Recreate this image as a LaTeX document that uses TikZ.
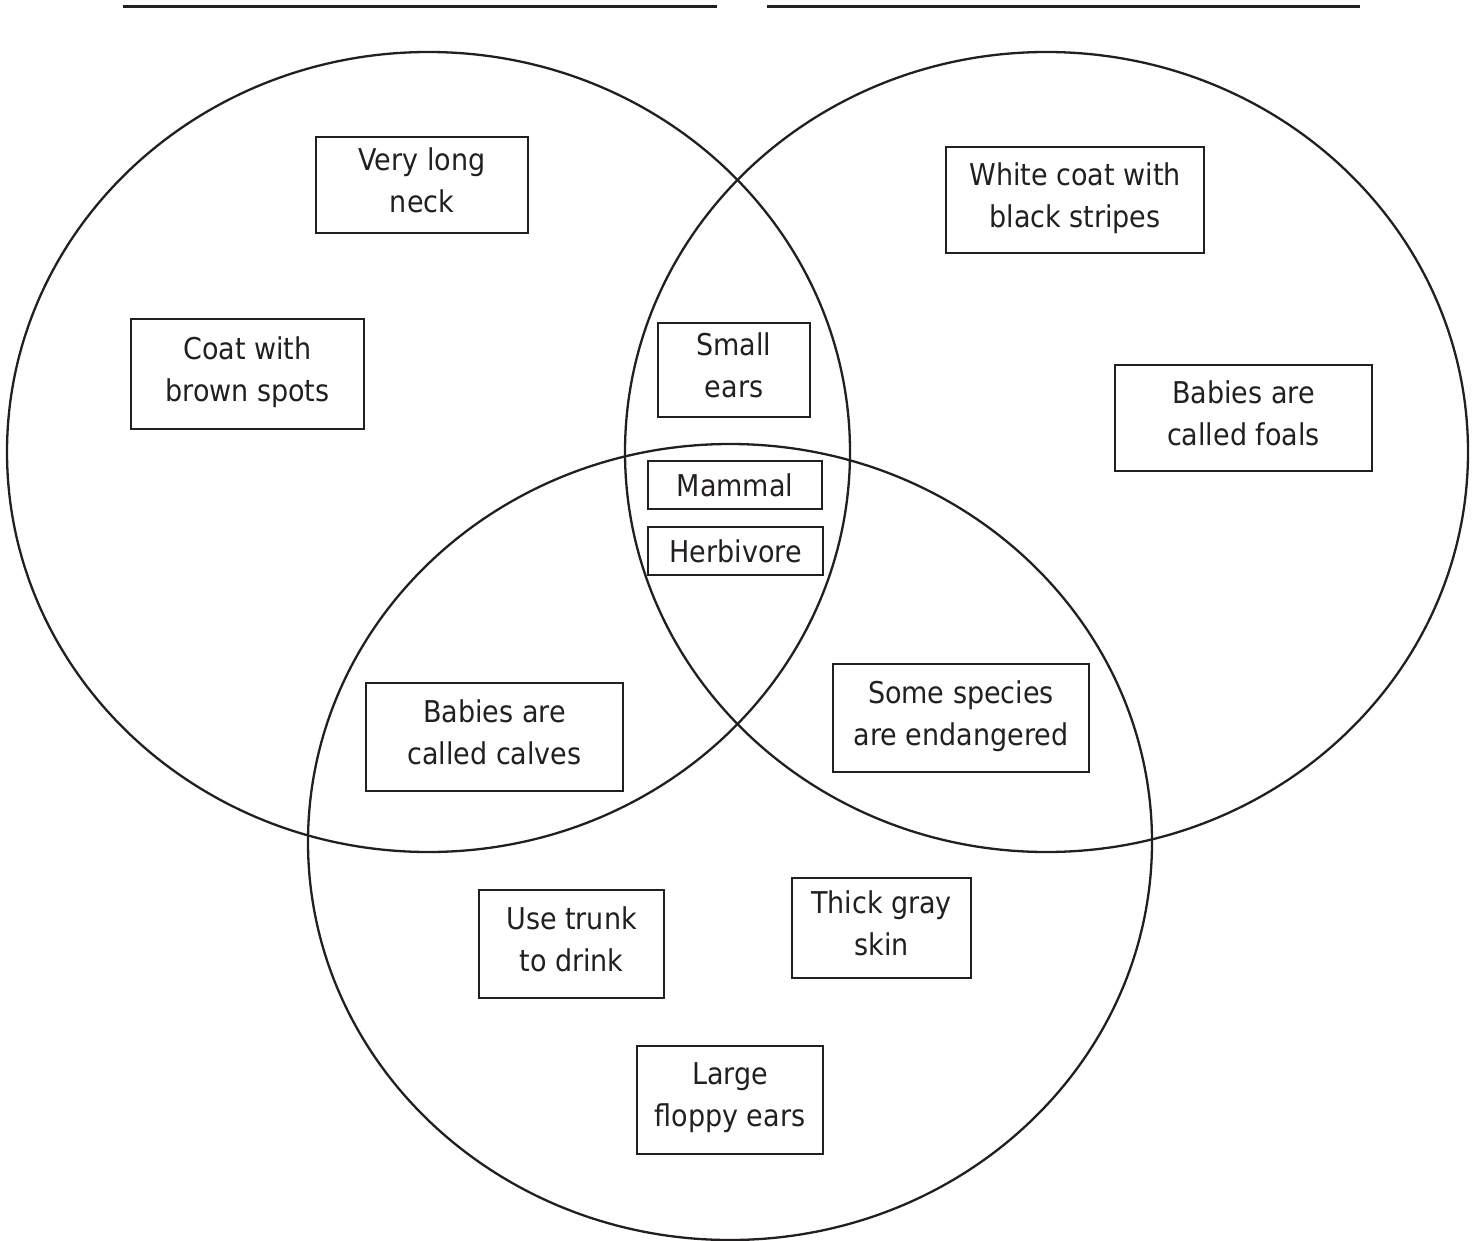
\documentclass[tikz,border=0pt]{standalone}
\usepackage{fontspec}
\setmainfont{DejaVu Sans Condensed}
\definecolor{ink}{RGB}{35,31,32}
\begin{document}
\begin{tikzpicture}[x=0.5pt, y=-0.5pt,
    trait/.style={draw=ink, line width=1pt, inner sep=0pt, align=center,
        text=ink, font=\fontsize{15pt}{21pt}\selectfont},
    twoline/.style={trait, text depth=5pt},
    ring/.style={draw=ink, line width=1.15pt}]
    \useasboundingbox (0,0) rectangle (1477,1241);

    % Title lines
    \draw[ink, line width=1.5pt] (123,7) -- (717,7);
    \draw[ink, line width=1.5pt] (767,7) -- (1360,7);

    % Circles
    \coordinate (giraffe) at (428.5,452);
    \coordinate (zebra) at (1046.5,452);
    \coordinate (elephant) at (730,842);
    \draw[ring] (giraffe) ellipse [x radius=210.75pt, y radius=200pt];
    \draw[ring] (zebra) ellipse [x radius=210.75pt, y radius=200pt];
    \draw[ring] (elephant) ellipse [x radius=211pt, y radius=199pt];

    % Giraffe only
    \node[twoline, minimum width=106pt, minimum height=48pt] (neck) at (422,185) {Very long\\neck};
    \node[twoline, minimum width=116.5pt, minimum height=55pt] (spots) at (247.5,374) {Coat with\\brown spots};

    % Zebra only
    \node[twoline, minimum width=129pt, minimum height=53pt] (stripes) at (1075,200) {White coat with\\black stripes};
    \node[twoline, minimum width=128.5pt, minimum height=53pt] (foals) at (1243.5,418) {Babies are\\called foals};

    % Giraffe and zebra
    \node[twoline, minimum width=76pt, minimum height=47pt] (smallears) at (734,370) {Small\\ears};

    % All three
    \node[trait, minimum width=87pt, minimum height=24pt] (mammal) at (735,485) {Mammal};
    \node[trait, minimum width=87.5pt, minimum height=24pt] (herbivore) at (735.5,551) {Herbivore};

    % Giraffe and elephant
    \node[twoline, minimum width=128.5pt, minimum height=54pt] (calves) at (494.5,737) {Babies are\\called calves};

    % Zebra and elephant
    \node[twoline, minimum width=128pt, minimum height=54pt] (endangered) at (961,718) {Some species\\are endangered};

    % Elephant only
    \node[twoline, minimum width=92.5pt, minimum height=54pt] (trunk) at (571.5,944) {Use trunk\\to drink};
    \node[twoline, minimum width=89.5pt, minimum height=50pt] (grayskin) at (881.5,928) {Thick gray\\skin};
    \node[twoline, minimum width=93pt, minimum height=54pt] (floppy) at (730,1100) {Large\\floppy ears};
\end{tikzpicture}
\end{document}
